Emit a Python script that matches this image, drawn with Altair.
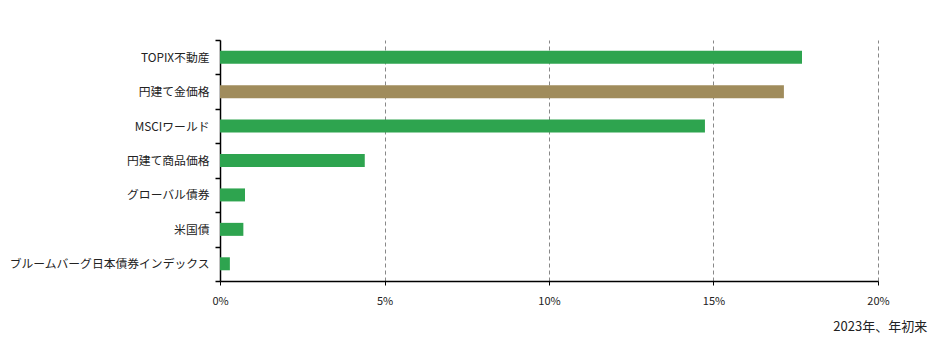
import altair as alt
import pandas as pd

categories = ["TOPIX不動産", "円建て金価格", "MSCIワールド", "円建て商品価格",
              "グローバル債券", "米国債", "ブルームバーグ日本債券インデックス"]
values = [0.1769, 0.1714, 0.1474, 0.0440, 0.0076, 0.0071, 0.0030]
groups = ["a", "b", "a", "a", "a", "a", "a"]
caption = "2023年、年初来"

df = pd.DataFrame({"cat": categories, "val": values, "grp": groups})

FONT = "Noto Sans CJK JP"

bars = alt.Chart(df).mark_bar(size=13).encode(
    y=alt.Y("cat:N", sort=categories, title=None,
            scale=alt.Scale(paddingInner=0, paddingOuter=0),
            axis=alt.Axis(tickBand="extent", domainColor="#000000", tickColor="#000000",
                          tickSize=5, tickWidth=1.5, labelFontSize=11.8, labelColor="#222222",
                          labelFont=FONT, labelPadding=6, labelLimit=400, grid=False)),
    x=alt.X("val:Q", title=None,
            scale=alt.Scale(domain=[0, 0.2], nice=False),
            axis=alt.Axis(values=[0, 0.05, 0.1, 0.15, 0.2], format=".0%",
                          domainColor="#000000", tickColor="#000000", tickSize=4,
                          labelFontSize=11, labelColor="#222222", labelFont=FONT,
                          labelPadding=10, labelFlush=False, grid=True, gridColor="#888888",
                          gridDash=[4, 3], gridWidth=1)),
    color=alt.Color("grp:N", scale=alt.Scale(domain=["a", "b"],
                                             range=["#2EA44F", "#A08C5C"]),
                    legend=None),
)

chart = bars.properties(
    width=658, height=241,
    autosize=alt.AutoSizeParams(type="none"),
    padding={"left": 220, "top": 40, "right": 65, "bottom": 69},
    title=alt.TitleParams(caption, orient="bottom", anchor="end", dx=38,
                          offset=15, fontSize=13, fontWeight="normal",
                          font=FONT, color="#222222"),
).configure_view(stroke=None).configure_axis(domainWidth=1.5)

chart.save("out.html", embed_options={"renderer": "svg", "actions": False})
